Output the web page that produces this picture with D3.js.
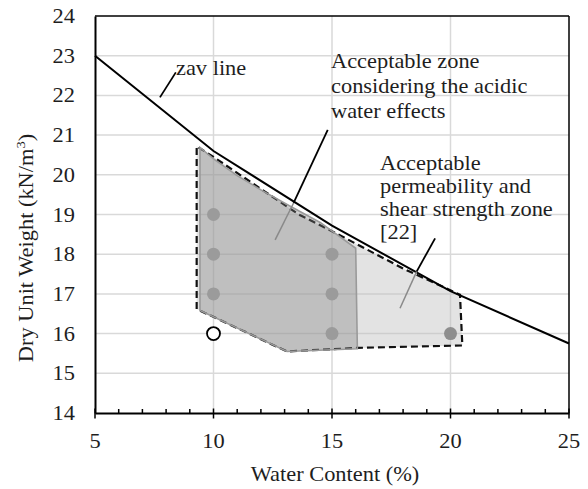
<!DOCTYPE html>
<html><head><meta charset="utf-8">
<script src="https://cdn.jsdelivr.net/npm/d3@7"></script>
<style>html,body{margin:0;padding:0;background:#fff;}svg{display:block;}
svg text{font-family:"Liberation Serif","Times New Roman",Times,"DejaVu Serif",serif;}</style>
</head><body>
<svg id="c" width="588" height="489"></svg>
<script>
// ---- data ----
const xTicks = [5, 10, 15, 20, 25];
const yTicks = [14, 15, 16, 17, 18, 19, 20, 21, 22, 23, 24];
const zavW = [5, 10, 15, 20, 25];
const zavGamma = [23.0, 20.6, 18.72, 17.07, 15.75];
// zone considering acidic water effects (dark)
const acidZoneW = [9.43, 9.43, 10.0, 11.0, 12.0, 13.2, 14.5, 16.0, 16.07, 13.1];
const acidZoneG = [16.58, 20.69, 20.4, 19.98, 19.62, 19.22, 18.8, 18.15, 15.62, 15.55];
// acceptable permeability & shear strength zone [22] (light, dashed)
const permZoneW = [9.29, 9.29, 10.0, 13.6, 15.0, 18.0, 20.4, 20.5, 16.07, 13.1, 9.43];
const permZoneG = [16.62, 20.72, 20.45, 19.0, 18.58, 17.64, 16.98, 15.7, 15.64, 15.55, 16.58];
// test points
const okW = [10, 10, 10, 15, 15, 15];
const okG = [19, 18, 17, 18, 17, 16];
const ok2W = [20];
const ok2G = [16];
const failW = [10];
const failG = [16];
// annotation leaders [w, gamma] start, break, end
const zavLeader = [[8.41, 22.58], [7.74, 21.95]];
const acidLeader = [[14.82, 21.13], [13.38, 19.29], [12.6, 18.36]];
const permLeader = [[19.35, 18.4], [18.57, 17.56], [17.87, 16.64]];
const acidText = ["Acceptable zone", "considering the acidic", "water effects"];
const permText = ["Acceptable", "permeability and", "shear strength zone", "[22]"];

// ---- chart ----
const svg = d3.select("#c");
const L = 95, R = 569, T = 16, B = 413;
const x = d3.scaleLinear().domain([5, 25]).range([L, R]);
const y = d3.scaleLinear().domain([14, 24]).range([B, T]);
const SX = 1.12;

function txt(px, py, s, anchor, rot) {
  const t = svg.append("text")
    .attr("transform", `translate(${px},${py})` + (rot ? ` rotate(${rot})` : "") + ` scale(${SX},1)`)
    .attr("text-anchor", anchor || "start")
    .style("font-size", "20px").attr("fill", "#1e1e1e");
  if (s !== null) t.text(s);
  return t;
}

// grid
svg.append("g").selectAll("line").data(yTicks.slice(1, -1)).join("line")
  .attr("x1", L).attr("x2", R).attr("y1", d => y(d)).attr("y2", d => y(d))
  .attr("stroke", "#d9d9d9").attr("stroke-width", 1.5);
svg.append("g").selectAll("line").data(xTicks.slice(1, -1)).join("line")
  .attr("y1", T).attr("y2", B).attr("x1", d => x(d)).attr("x2", d => x(d))
  .attr("stroke", "#d9d9d9").attr("stroke-width", 1.5);

const line = d3.line().x(d => x(d[0])).y(d => y(d[1]));
const permPts = permZoneW.map((w, i) => [w, permZoneG[i]]);
const acidPts = acidZoneW.map((w, i) => [w, acidZoneG[i]]);

// light zone
svg.append("path").attr("d", line(permPts) + "Z")
  .attr("fill", "#c2c2c2").attr("fill-opacity", 0.45)
  .attr("stroke", "#111").attr("stroke-width", 2.2).attr("stroke-dasharray", "7,4");
// dark zone
svg.append("path").attr("d", line(acidPts) + "Z")
  .attr("fill", "#7f7f7f").attr("fill-opacity", 0.36)
  .attr("stroke", "#9a9a9a").attr("stroke-width", 1.6);

// zav line
svg.append("path").attr("d", line(zavW.map((w, i) => [w, zavGamma[i]])))
  .attr("fill", "none").attr("stroke", "#000").attr("stroke-width", 2);

// points
svg.append("g").selectAll("circle").data(okW.map((w, i) => [w, okG[i]])).join("circle")
  .attr("cx", d => x(d[0])).attr("cy", d => y(d[1])).attr("r", 6.5).attr("fill", "#9b9b9b");
svg.append("g").selectAll("circle").data(ok2W.map((w, i) => [w, ok2G[i]])).join("circle")
  .attr("cx", d => x(d[0])).attr("cy", d => y(d[1])).attr("r", 6.5).attr("fill", "#8e8e8e");
svg.append("g").selectAll("circle").data(failW.map((w, i) => [w, failG[i]])).join("circle")
  .attr("cx", d => x(d[0])).attr("cy", d => y(d[1])).attr("r", 6.5)
  .attr("fill", "#fff").attr("stroke", "#000").attr("stroke-width", 1.8);

// leaders
svg.append("path").attr("d", line(zavLeader)).attr("stroke", "#000").attr("stroke-width", 1.8).attr("fill", "none");
svg.append("path").attr("d", line(acidLeader.slice(0, 2))).attr("stroke", "#000").attr("stroke-width", 1.8);
svg.append("path").attr("d", line(acidLeader.slice(1))).attr("stroke", "#8a8a8a").attr("stroke-width", 1.5);
svg.append("path").attr("d", line(permLeader.slice(0, 2))).attr("stroke", "#000").attr("stroke-width", 1.8);
svg.append("path").attr("d", line(permLeader.slice(1))).attr("stroke", "#8a8a8a").attr("stroke-width", 1.5);

// frame
svg.append("line").attr("x1", L).attr("x2", R).attr("y1", T).attr("y2", T).attr("stroke", "#000").attr("stroke-width", 1.5);
svg.append("line").attr("x1", R).attr("x2", R).attr("y1", T).attr("y2", B).attr("stroke", "#000").attr("stroke-width", 1.5);

// x axis
const xAxis = d3.axisBottom(x).tickValues(xTicks).tickSize(0).tickFormat("");
const gx = svg.append("g").attr("transform", `translate(0,${B})`).call(xAxis);
gx.select(".domain").attr("stroke", "#000").attr("stroke-width", 2);
const minor = d3.range(6, 25).filter(v => v % 5 !== 0);
gx.selectAll(".minor").data(minor).join("line").attr("class", "minor")
  .attr("x1", d => x(d)).attr("x2", d => x(d)).attr("y1", -4).attr("y2", 0)
  .attr("stroke", "#000").attr("stroke-width", 1.5);
gx.selectAll(".major").data(xTicks).join("line").attr("class", "major")
  .attr("x1", d => x(d)).attr("x2", d => x(d)).attr("y1", -4.5).attr("y2", 5.5)
  .attr("stroke", "#000").attr("stroke-width", 1.5);
xTicks.forEach(v => txt(x(v), 448, String(v), "middle"));

// y axis
const yAxis = d3.axisLeft(y).tickValues(yTicks).tickSize(0).tickFormat("");
const gy = svg.append("g").attr("transform", `translate(${L},0)`).call(yAxis);
gy.select(".domain").attr("stroke", "#000").attr("stroke-width", 2);
yTicks.forEach(v => txt(75, y(v) + 7, String(v), "end"));

// axis titles
txt(335, 481, "Water Content (%)", "middle");
const yt = txt(33, 248, null, "middle", -90);
yt.append("tspan").text("Dry Unit Weight (kN/m");
yt.append("tspan").style("font-size", "13px").attr("dy", -8).text("3");
yt.append("tspan").attr("dy", 8).text(")");

// annotation texts
txt(176, 75, "zav line", "start");
acidText.forEach((s, i) => txt(331, 68 + i * 25, s, "start"));
permText.forEach((s, i) => txt(380, 170 + i * 23, s, "start"));
</script>
</body></html>
